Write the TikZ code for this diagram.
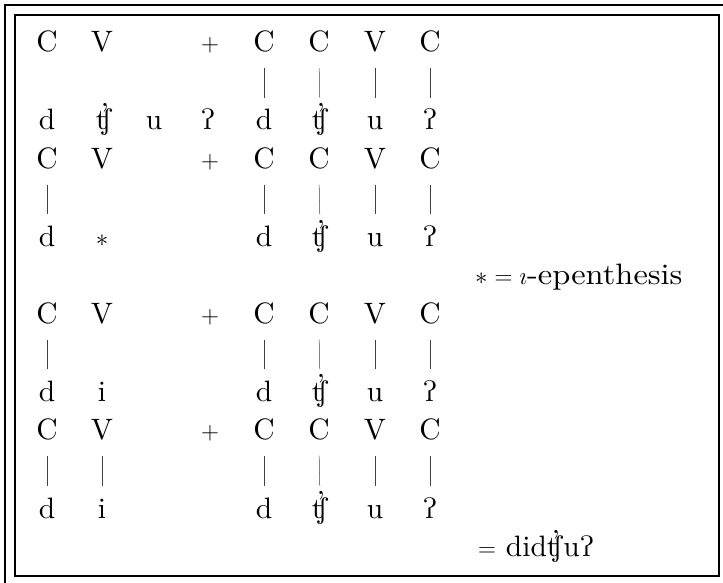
\documentclass[tikz,border=0pt]{standalone}
\usepackage[safe]{tipa}
\usepackage{graphicx}
\usepackage{fontspec}
\setmainfont{lmroman10-regular.otf}[ItalicFont=lmroman10-italic.otf]
\newcommand\ipasel{\fontencoding{T3}\fontfamily{cmr}\fontseries{m}\fontshape{n}\fontsize{10}{12}\selectfont}
\newcommand\ipach[1]{\scalebox{2.95}{\ipasel #1}}
\newcommand\tshc{\makebox[0pt][l]{\hspace{0.17em}\raisebox{0.78em}{,}}\ipach{\textteshlig}}
\newcommand\glot{\ipach{\textglotstop}}
\begin{document}
\begin{tikzpicture}[x=1pt,y=-1pt,
  every node/.style={font=\fontsize{29.5}{35}\selectfont},
  seg/.style={inner sep=0pt, anchor=base, text height=20pt, text depth=7pt},
  lbl/.style={inner sep=0pt, anchor=base west},
  bar/.style={line width=0.5pt, draw=black!75, shorten <=9pt, shorten >=12pt},
  frame/.style={line width=1.1pt}]
\useasboundingbox (0,0) rectangle (723,583);
% frames
\draw[frame] (15,15) rectangle (719,576);
\draw[frame] (4,5) -- (723,5);
\draw[frame] (5,5) -- (5,583);
% Block 1
\node[seg] (a0) at (47,52) {C};
\node[seg] (a1) at (102,52) {V};
\node[seg] (a3) at (210,52) {$+$};
\node[seg] (a4) at (264,52) {C};
\node[seg] (a5) at (319,52) {C};
\node[seg] (a6) at (375,52) {V};
\node[seg] (a7) at (430,52) {C};
\node[seg] (b0) at (47,130) {d};
\node[seg] (b1) at (104,130) {\tshc};
\node[seg] (b2) at (154,130) {u};
\node[seg] (b3) at (208,130) {\glot};
\node[seg] (b4) at (264,130) {d};
\node[seg] (b5) at (320,130) {\tshc};
\node[seg] (b6) at (375,130) {u};
\node[seg] (b7) at (430,130) {\glot};
\foreach \i in {4,5,6,7} \draw[bar] (a\i.south) -- (b\i.north);
% Block 2
\node[seg] (c0) at (47,168.4) {C};
\node[seg] (c1) at (102,168.4) {V};
\node[seg] (c3) at (210,168.4) {$+$};
\node[seg] (c4) at (264,168.4) {C};
\node[seg] (c5) at (319,168.4) {C};
\node[seg] (c6) at (375,168.4) {V};
\node[seg] (c7) at (430,168.4) {C};
\node[seg] (d0) at (47,246.5) {d};
\node[seg] (d1) at (102,246.5) {$*$};
\node[seg] (d4) at (264,246.5) {d};
\node[seg] (d5) at (320,246.5) {\tshc};
\node[seg] (d6) at (375,246.5) {u};
\node[seg] (d7) at (430,246.5) {\glot};
\foreach \i in {0,4,5,6,7} \draw[bar] (c\i.south) -- (d\i.north);
\node[lbl] (ep) at (475,284.5) {$*=\imath$\scalebox{1.1}[1]{-epenthesis}};
% Block 3
\node[seg] (e0) at (47,323.3) {C};
\node[seg] (e1) at (102,323.3) {V};
\node[seg] (e3) at (210,323.3) {$+$};
\node[seg] (e4) at (264,323.3) {C};
\node[seg] (e5) at (319,323.3) {C};
\node[seg] (e6) at (375,323.3) {V};
\node[seg] (e7) at (430,323.3) {C};
\node[seg] (f0) at (47,401) {d};
\node[seg] (f1) at (102,401) {i};
\node[seg] (f4) at (264,401) {d};
\node[seg] (f5) at (320,401) {\tshc};
\node[seg] (f6) at (375,401) {u};
\node[seg] (f7) at (430,401) {\glot};
\foreach \i in {0,4,5,6,7} \draw[bar] (e\i.south) -- (f\i.north);
% Block 4
\node[seg] (g0) at (47,439.5) {C};
\node[seg] (g1) at (102,439.5) {V};
\node[seg] (g3) at (210,439.5) {$+$};
\node[seg] (g4) at (264,439.5) {C};
\node[seg] (g5) at (319,439.5) {C};
\node[seg] (g6) at (375,439.5) {V};
\node[seg] (g7) at (430,439.5) {C};
\node[seg] (h0) at (47,518) {d};
\node[seg] (h1) at (102,518) {i};
\node[seg] (h4) at (264,518) {d};
\node[seg] (h5) at (320,518) {\tshc};
\node[seg] (h6) at (375,518) {u};
\node[seg] (h7) at (430,518) {\glot};
\foreach \i in {0,1,4,5,6,7} \draw[bar] (g\i.south) -- (h\i.north);
\node[lbl] (res) at (478,556.5) {$=$ did\tshc u\glot};
\end{tikzpicture}
\end{document}
